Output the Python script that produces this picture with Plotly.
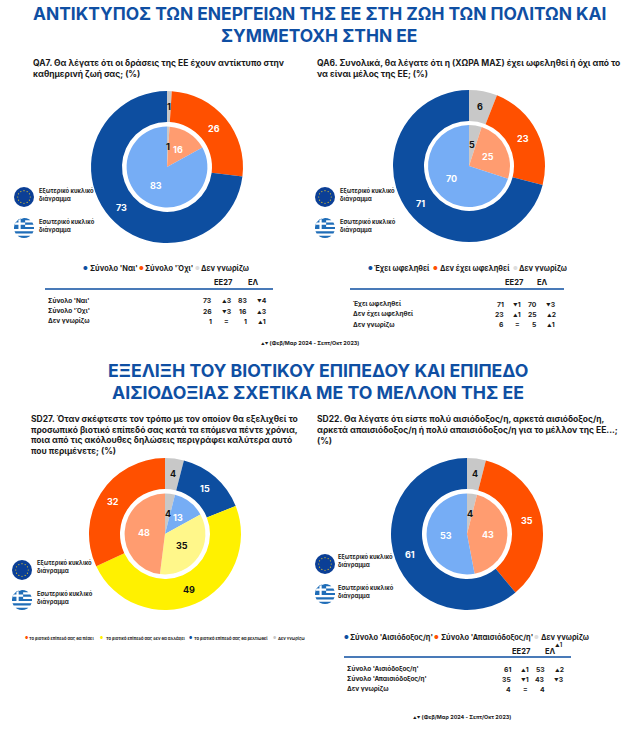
import math
import plotly.graph_objects as go

W, H = 636, 733
FONT = "Inter"
NAVY = "#0D4EA0"
TITLE_BLUE = "#0F4FA3"
INK = "#1A1A1A"

# colours, outer ring / inner pie
DARK_BLUE, ORANGE, GREY, YELLOW = "#0D4EA0", "#FF5000", "#C8C8C8", "#FFF100"
LIGHT_BLUE, LIGHT_ORANGE, LIGHT_YELLOW = "#76ADF5", "#FF9C70", "#FFF78A"

# QA7
qa7_outer = [1, 26, 73]
qa7_inner = [1, 16, 83]
qa7_legend = ["Σύνολο 'Ναι'", "Σύνολο 'Όχι'", "Δεν γνωρίζω"]
qa7_eu = ["73", "26", "1"]
qa7_eu_change = ["▲3", "▼3", "="]
qa7_el = ["83", "16", "1"]
qa7_el_change = ["▼4", "▲3", "▲1"]

# QA6
qa6_outer = [6, 23, 71]
qa6_inner = [5, 25, 70]
qa6_legend = ["Έχει ωφεληθεί", "Δεν έχει ωφεληθεί", "Δεν γνωρίζω"]
qa6_eu = ["71", "23", "6"]
qa6_eu_change = ["▼1", "▲1", "="]
qa6_el = ["70", "25", "5"]
qa6_el_change = ["▼3", "▲2", "▲1"]

# SD27
sd27_outer = [4, 15, 49, 32]
sd27_inner = [4, 13, 35, 48]
sd27_legend = ["Το βιοτικό επίπεδό σας θα πέσει", "Το βιοτικό επίπεδό σας δεν θα αλλάξει",
               "Το βιοτικό επίπεδό σας θα βελτιωθεί", "Δεν γνωρίζω"]

# SD22
sd22_outer = [4, 35, 61]
sd22_inner = [4, 43, 53]
sd22_legend = ["Σύνολο 'Αισιόδοξος/η'", "Σύνολο 'Απαισιόδοξος/η'", "Δεν γνωρίζω"]
sd22_eu = ["61", "35", "4"]
sd22_eu_change = ["▲1", "▼1", "="]
sd22_el = ["53", "43", "4"]
sd22_el_change = ["▲2", "▼3", ""]

fig = go.Figure()
annotations = []
shapes = []


def px(x):
    return x / W


def py(y):
    return 1 - y / H


def text(x, y, s, size, color=INK, anchor="left", bold=True):
    if bold:
        s = "<b>" + s + "</b>"
    annotations.append(dict(x=px(x), y=py(y), xref="paper", yref="paper", text=s, showarrow=False,
                            xanchor=anchor, yanchor="middle", align=anchor, borderpad=0,
                            font=dict(family=FONT, size=size, color=color)))


def donut(cx, cy, outer, inner, outer_colors, inner_colors, dark_labels, r_inner=40.4, R=76):
    for vals, cols, radius, hole in [(outer, outer_colors, R, 45 / R), (inner, inner_colors, r_inner, 0)]:
        fig.add_trace(go.Pie(values=vals, sort=False, direction="clockwise", rotation=0, hole=hole,
                             marker=dict(colors=cols, line=dict(width=0)), textinfo="none",
                             showlegend=False,
                             domain=dict(x=[px(cx - radius), px(cx + radius)],
                                         y=[py(cy + radius), py(cy - radius)])))
        label_r = 61 if hole else radius * 0.52
        done = 0
        for i, v in enumerate(vals):
            a = 2 * math.pi * (done + v / 2) / sum(vals)
            done += v
            color = "#111111" if cols[i] in dark_labels else "white"
            text(cx + label_r * math.sin(a), cy - label_r * math.cos(a), str(v), 9, color, "center")


def clipped(cx, cy, r, x0, x1, y0, y1, color):
    # rectangle cut to the circle, used for the flag icon
    ys = [y0 + (y1 - y0) * i / 6 for i in range(7)]
    right, left = [], []
    for y in ys:
        w = math.sqrt(max(r * r - (y - cy) ** 2, 0))
        right.append((min(x1, cx + w), y))
        left.append((max(x0, cx - w), y))
    pts = right + left[::-1]
    path = "M" + " L".join(f"{px(a):.5f},{py(b):.5f}" for a, b in pts) + " Z"
    shapes.append(dict(type="path", path=path, xref="paper", yref="paper", fillcolor=color, line_width=0))


def circle(cx, cy, r, color):
    shapes.append(dict(type="circle", xref="paper", yref="paper", x0=px(cx - r), x1=px(cx + r),
                       y0=py(cy + r), y1=py(cy - r), fillcolor=color, line_width=0))


def icons(ix, eu_y, gr_y, tx, eu_ty, gr_ty):
    circle(ix, eu_y, 10, "#0B3F96")
    for k in range(12):
        a = 2 * math.pi * k / 12
        circle(ix + 6.3 * math.sin(a), eu_y + 6.3 * math.cos(a), 0.6, "#E0C32A")
    blue = "#1F6DB8"
    r, st = 10, 20 / 9
    top = gr_y - r
    circle(ix, gr_y, r, "white")
    for k in range(0, 9, 2):
        clipped(ix, gr_y, r, ix - r, ix + r, top + k * st, top + (k + 1) * st, blue)
    left = ix - r
    clipped(ix, gr_y, r, left, left + 5 * st, top, top + 5 * st, blue)
    clipped(ix, gr_y, r, left + 2 * st, left + 3 * st, top, top + 5 * st, "white")
    clipped(ix, gr_y, r, left, left + 5 * st, top + 2 * st, top + 3 * st, "white")
    text(tx, eu_ty, "Εξωτερικό κυκλικό", 5.8)
    text(tx, eu_ty + 7.7, "διάγραμμα", 5.8)
    text(tx, gr_ty, "Εσωτερικό κυκλικό", 5.8)
    text(tx, gr_ty + 7.7, "διάγραμμα", 5.8)


def legend(y, labels, dots, xs, size):
    for lab, dot, (dx, tx) in zip(labels, dots, xs):
        text(dx, y, "●", max(size * 0.7, 3.6), dot, "center")
        text(tx, y, lab, size)


def change(s):
    if s and s[0] in "▲▼":
        return f'<span style="font-size:4.5px">{s[0]}</span>{s[1:]}'
    return s


def table(labels, eu, eu_ch, el, el_ch, head_y, line_y, line_x, rows_y, label_x, cols, head_x):
    text(head_x[0], head_y, "ΕΕ27", 7.6, anchor="center")
    text(head_x[1], head_y, "ΕΛ", 7.6, anchor="center")
    shapes.append(dict(type="line", xref="paper", yref="paper", x0=px(line_x[0]), x1=px(line_x[1]),
                       y0=py(line_y), y1=py(line_y), line=dict(color=NAVY, width=1.4)))
    for i, y in enumerate(rows_y):
        text(label_x, y, labels[i], 6.4)
        text(cols[0], y, eu[i], 6.8, anchor="right")
        text(cols[1], y, change(eu_ch[i]), 6.8, anchor="center")
        text(cols[2], y, el[i], 6.8, anchor="right")
        text(cols[3], y, change(el_ch[i]), 6.8, anchor="center")


# titles
text(319, 14, "ΑΝΤΙΚΤΥΠΟΣ ΤΩΝ ΕΝΕΡΓΕΙΩΝ ΤΗΣ ΕΕ ΣΤΗ ΖΩΗ ΤΩΝ ΠΟΛΙΤΩΝ ΚΑΙ", 17.4, TITLE_BLUE, "center")
text(319, 36, "ΣΥΜΜΕΤΟΧΗ ΣΤΗΝ ΕΕ", 17.4, TITLE_BLUE, "center")
text(318, 370, "ΕΞΕΛΙΞΗ ΤΟΥ ΒΙΟΤΙΚΟΥ ΕΠΙΠΕΔΟΥ ΚΑΙ ΕΠΙΠΕΔΟ", 17.7, TITLE_BLUE, "center")
text(318, 392, "ΑΙΣΙΟΔΟΞΙΑΣ ΣΧΕΤΙΚΑ ΜΕ ΤΟ ΜΕΛΛΟΝ ΤΗΣ ΕΕ", 17.7, TITLE_BLUE, "center")

# questions
text(32, 63, "QA7. Θα λέγατε ότι οι δράσεις της ΕΕ έχουν αντίκτυπο στην", 8.5)
text(32, 74, "καθημερινή ζωή σας; (%)", 8.5)
text(316, 63, "QA6. Συνολικά, θα λέγατε ότι η (ΧΩΡΑ ΜΑΣ) έχει ωφεληθεί ή όχι από το", 8.5)
text(316, 74, "να είναι μέλος της ΕΕ; (%)", 8.5)
for i, line in enumerate(["SD27. Όταν σκέφτεστε τον τρόπο με τον οποίον θα εξελιχθεί το",
                          "προσωπικό βιοτικό επίπεδό σας κατά τα επόμενα πέντε χρόνια,",
                          "ποια από τις ακόλουθες δηλώσεις περιγράφει καλύτερα αυτό",
                          "που περιμένετε; (%)"]):
    text(30, 419 + i * 10.7, line, 8.5)
for i, line in enumerate(["SD22. Θα λέγατε ότι είστε πολύ αισιόδοξος/η, αρκετά αισιόδοξος/η,",
                          "αρκετά απαισιόδοξος/η ή πολύ απαισιόδοξος/η για το μέλλον της ΕΕ...;",
                          "(%)"]):
    text(316, 419 + i * 11, line, 8.5)

# pies
donut(167, 167, qa7_outer, qa7_inner, [GREY, ORANGE, DARK_BLUE], [GREY, LIGHT_ORANGE, LIGHT_BLUE], [GREY])
donut(469, 166, qa6_outer, qa6_inner, [GREY, ORANGE, DARK_BLUE], [GREY, LIGHT_ORANGE, LIGHT_BLUE], [GREY], r_inner=41)
donut(165, 534, sd27_outer, sd27_inner, [GREY, DARK_BLUE, YELLOW, ORANGE],
      [GREY, LIGHT_BLUE, LIGHT_YELLOW, LIGHT_ORANGE], [GREY, YELLOW, LIGHT_YELLOW])
donut(467, 534, sd22_outer, sd22_inner, [GREY, ORANGE, DARK_BLUE], [GREY, LIGHT_ORANGE, LIGHT_BLUE], [GREY])

# flag icons
icons(24, 197, 228, 38, 191, 222)
icons(325, 197, 228, 339, 191, 222)
icons(22, 570, 600, 36, 563, 594)
icons(325, 564, 594, 337, 557, 588)

# legends
DOTS = [DARK_BLUE, ORANGE, "#DDDDDD"]
legend(268, qa7_legend, DOTS, [(85, 89), (141, 144), (197, 200)], 7.4)
legend(268, qa6_legend, DOTS, [(370, 373), (435, 439), (515, 518)], 7.4)
legend(638, sd27_legend, [ORANGE, YELLOW, DARK_BLUE, GREY], [(26, 28), (101, 105), (190, 193), (274, 277)], 4.1)
legend(637, sd22_legend, DOTS, [(346, 349), (436, 440), (536, 540)], 7.4)

# tables
table(qa7_legend, qa7_eu, qa7_eu_change, qa7_el, qa7_el_change, 283, 289, (45, 273), [301, 311, 321], 47,
      (213, 227, 248, 262), (223, 253))
table(qa6_legend, qa6_eu, qa6_eu_change, qa6_el, qa6_el_change, 282, 289, (350, 564), [304, 314, 325], 352,
      (505, 517, 538, 551), (514, 542))
table(sd22_legend, sd22_eu, sd22_eu_change, sd22_el, sd22_el_change, 651, 657, (344, 571), [669, 679, 689], 346,
      (512, 525, 546, 559), (521, 550))
text(559, 645, change("▲1"), 5.6, anchor="center")

# footnotes
text(260, 343, '<span style="font-size:3.5px">▲▼</span> (Φεβ/Μαρ 2024 - Σεπτ/Οκτ 2023)', 5.4)
text(412, 717, '<span style="font-size:3.5px">▲▼</span> (Φεβ/Μαρ 2024 - Σεπτ/Οκτ 2023)', 5.4)

fig.update_layout(width=W, height=H, autosize=False, margin=dict(l=0, r=0, t=0, b=0),
                  paper_bgcolor="white", plot_bgcolor="white", showlegend=False,
                  annotations=annotations, shapes=shapes)
# page margin would push the whole drawing off by 8px
fig.write_html("out.html", post_script="document.body.style.margin='0';", config={"displayModeBar": False})
